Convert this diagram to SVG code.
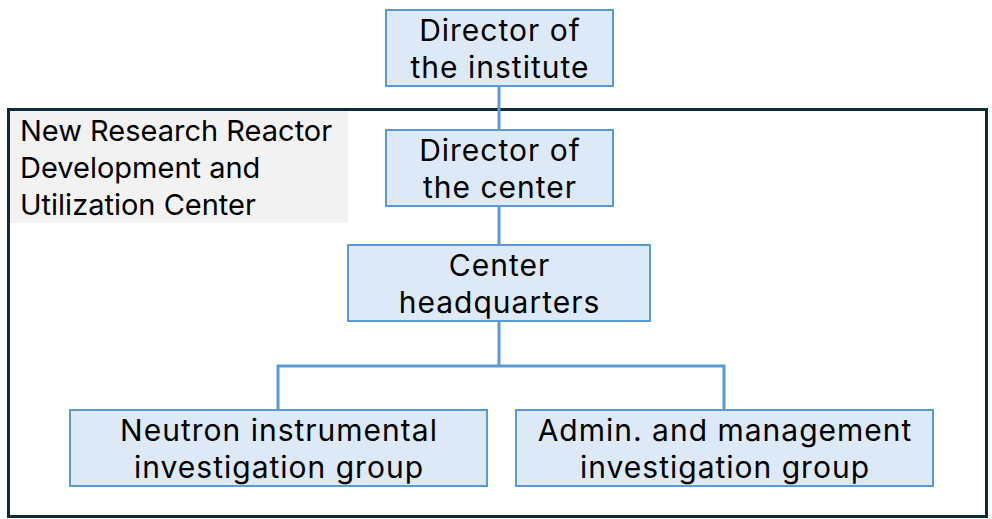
<svg xmlns="http://www.w3.org/2000/svg" width="992" height="519" viewBox="0 0 992 519">
<style>
.node{fill:#dde9f6;stroke:#5b9bd5;stroke-width:2}
.t{font-family:Inter,"Open Sans",sans-serif;font-size:30px;letter-spacing:1px;fill:#000;text-anchor:middle}
.lbl{font-family:Inter,"Open Sans",sans-serif;font-size:29px;fill:#000}
.conn{stroke:#5b9bd5;stroke-width:3;fill:none}
</style>
<rect x="0" y="0" width="992" height="519" fill="#fff"/>
<g id="frame">
<rect x="8.5" y="109.5" width="978" height="407" fill="none" stroke="#0d2b3a" stroke-width="3"/>
<rect x="10" y="111" width="338" height="112" fill="#f2f2f2"/>
<text class="lbl" x="20" y="141">New Research Reactor</text>
<text class="lbl" x="20" y="178">Development and</text>
<text class="lbl" x="20" y="215">Utilization Center</text>
</g>
<g id="connectors">
<line class="conn" x1="499" y1="86" x2="499" y2="130"/>
<line class="conn" x1="499" y1="206" x2="499" y2="245"/>
<polyline class="conn" points="278,410 278,366 724,366 724,410"/>
<line class="conn" x1="499" y1="321" x2="499" y2="366"/>
</g>
<g id="director-institute">
<rect class="node" x="386" y="10" width="227" height="76"/>
<text class="t" x="500" y="41">Director of</text>
<text class="t" x="500" y="78">the institute</text>
</g>
<g id="director-center">
<rect class="node" x="386" y="130" width="227" height="76"/>
<text class="t" x="500" y="161">Director of</text>
<text class="t" x="500" y="198">the center</text>
</g>
<g id="center-hq">
<rect class="node" x="348" y="245" width="302" height="76"/>
<text class="t" x="499.5" y="276">Center</text>
<text class="t" x="499.5" y="313">headquarters</text>
</g>
<g id="neutron-group">
<rect class="node" x="70" y="410" width="417" height="76"/>
<text class="t" x="279" y="441">Neutron instrumental</text>
<text class="t" x="279" y="478">investigation group</text>
</g>
<g id="admin-group">
<rect class="node" x="516" y="410" width="417" height="76"/>
<text class="t" x="725" y="441">Admin. and management</text>
<text class="t" x="725" y="478">investigation group</text>
</g>
</svg>
